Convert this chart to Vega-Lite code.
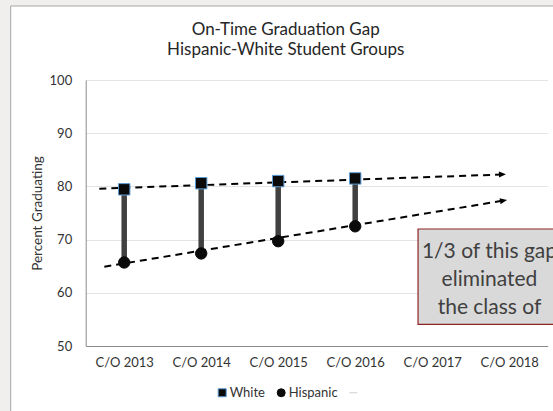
{
  "$schema": "https://vega.github.io/schema/vega-lite/v6.json",
  "width": 462,
  "height": 266,
  "autosize": "none",
  "padding": {"left": 85.7, "top": 80, "right": 5.3, "bottom": 65},
  "background": "white",
  "config": {
    "font": "Lato",
    "view": {"stroke": null}
  },
  "title": {
    "text": ["On-Time Graduation Gap", "Hispanic-White Student Groups"],
    "font": "Lato",
    "fontSize": 17,
    "fontWeight": "normal",
    "color": "#262626",
    "anchor": "middle",
    "frame": "group",
    "dx": -31,
    "lineHeight": 20,
    "offset": -59
  },
  "datasets": {
    "grad": [
      {"year": 2013, "group": "White", "pct": 79.45},
      {"year": 2014, "group": "White", "pct": 80.6},
      {"year": 2015, "group": "White", "pct": 81.0},
      {"year": 2016, "group": "White", "pct": 81.5},
      {"year": 2013, "group": "Hispanic", "pct": 65.7},
      {"year": 2014, "group": "Hispanic", "pct": 67.4},
      {"year": 2015, "group": "Hispanic", "pct": 69.7},
      {"year": 2016, "group": "Hispanic", "pct": 72.5}
    ],
    "trend": [
      {"year": 2012.677, "line": "White", "pct": 79.57},
      {"year": 2017.958, "line": "White", "pct": 82.27},
      {"year": 2012.742, "line": "Hispanic", "pct": 64.91},
      {"year": 2017.971, "line": "Hispanic", "pct": 77.44}
    ],
    "one": [{}]
  },
  "layer": [
    {
      "data": {"name": "one"},
      "mark": {"type": "rect", "fill": "#f1efee"},
      "encoding": {
        "x": {"datum": 2011.387, "type": "quantitative", "scale": {"domain": [2012.5, 2018.5], "nice": false, "zero": false}},
        "x2": {"datum": 2011.526},
        "y": {"datum": 37.78, "type": "quantitative", "scale": {"domain": [50, 100], "nice": false, "zero": false}},
        "y2": {"datum": 115.04}
      }
    },
    {
      "data": {"name": "one"},
      "mark": {"type": "rect", "fill": "#f1efee"},
      "encoding": {
        "x": {"datum": 2011.387, "type": "quantitative", "scale": {"domain": [2012.5, 2018.5], "nice": false, "zero": false}},
        "x2": {"datum": 2018.569},
        "y": {"datum": 113.91, "type": "quantitative", "scale": {"domain": [50, 100], "nice": false, "zero": false}},
        "y2": {"datum": 115.04}
      }
    },
    {
      "data": {"name": "one"},
      "mark": {"type": "rect", "filled": false, "stroke": "#a6a6a6", "strokeWidth": 1},
      "encoding": {
        "x": {"datum": 2011.526, "type": "quantitative", "scale": {"domain": [2012.5, 2018.5], "nice": false, "zero": false}},
        "x2": {"datum": 2018.595},
        "y": {"datum": 113.91, "type": "quantitative", "scale": {"domain": [50, 100], "nice": false, "zero": false}},
        "y2": {"datum": 37.41}
      }
    },
    {
      "data": {"name": "grad"},
      "transform": [{"pivot": "group", "value": "pct", "groupby": ["year"]}],
      "mark": {"type": "rule", "color": "#404040", "strokeWidth": 5.5},
      "encoding": {
        "x": {"field": "year", "type": "quantitative", "scale": {"domain": [2012.5, 2018.5], "nice": false, "zero": false}},
        "y": {"field": "White", "type": "quantitative", "scale": {"domain": [50, 100], "nice": false, "zero": false}},
        "y2": {"field": "Hispanic"}
      }
    },
    {
      "data": {"name": "trend"},
      "mark": {"type": "line", "color": "black", "strokeWidth": 2, "strokeDash": [7, 5]},
      "encoding": {
        "x": {"field": "year", "type": "quantitative", "scale": {"domain": [2012.5, 2018.5], "nice": false, "zero": false}},
        "y": {"field": "pct", "type": "quantitative", "scale": {"domain": [50, 100], "nice": false, "zero": false}},
        "detail": {"field": "line"}
      }
    },
    {
      "data": {"name": "trend"},
      "transform": [{"filter": "datum.line == 'White' && datum.year > 2017"}],
      "mark": {"type": "point", "shape": "M-2,-0.86L0,0L-2,0.86Z", "filled": true, "color": "black", "size": 49, "angle": 358, "opacity": 1},
      "encoding": {
        "x": {"field": "year", "type": "quantitative", "scale": {"domain": [2012.5, 2018.5], "nice": false, "zero": false}},
        "y": {"field": "pct", "type": "quantitative", "scale": {"domain": [50, 100], "nice": false, "zero": false}}
      }
    },
    {
      "data": {"name": "trend"},
      "transform": [{"filter": "datum.line == 'Hispanic' && datum.year > 2017"}],
      "mark": {"type": "point", "shape": "M-2,-0.86L0,0L-2,0.86Z", "filled": true, "color": "black", "size": 49, "angle": 350.6, "opacity": 1},
      "encoding": {
        "x": {"field": "year", "type": "quantitative", "scale": {"domain": [2012.5, 2018.5], "nice": false, "zero": false}},
        "y": {"field": "pct", "type": "quantitative", "scale": {"domain": [50, 100], "nice": false, "zero": false}}
      }
    },
    {
      "data": {"name": "grad"},
      "mark": {"type": "point", "filled": true, "opacity": 1, "strokeWidth": 1, "size": 130},
      "encoding": {
        "x": {
          "field": "year", "type": "quantitative",
          "scale": {"domain": [2012.5, 2018.5], "nice": false, "zero": false},
          "axis": {
            "title": null,
            "values": [2013, 2014, 2015, 2016, 2017, 2018],
            "labelExpr": "'C/O ' + datum.value",
            "grid": false,
            "ticks": false,
            "labelFlush": false,
            "labelOverlap": false,
            "labelPadding": 10,
            "labelFont": "Lato",
            "labelFontSize": 13,
            "labelColor": "#333333",
            "domainColor": "#8c8c8c",
            "domainWidth": 1
          }
        },
        "y": {
          "field": "pct", "type": "quantitative",
          "scale": {"domain": [50, 100], "nice": false, "zero": false},
          "axis": {
            "title": "Percent Graduating",
            "titleFont": "Lato",
            "titleFontSize": 13.5,
            "titleFontWeight": "normal",
            "titleColor": "#333333",
            "titlePadding": 5,
            "values": [50, 60, 70, 80, 90, 100],
            "grid": true,
            "gridColor": "#e3e3e3",
            "gridWidth": 1,
            "ticks": false,
            "labelPadding": 14,
            "labelFont": "Lato",
            "labelFontSize": 13,
            "labelColor": "#333333",
            "domainColor": "#8c8c8c",
            "domainWidth": 1
          }
        },
        "shape": {
          "field": "group", "type": "nominal",
          "scale": {"domain": ["White", "Hispanic", "Trend"], "range": ["square", "circle", "stroke"]},
          "legend": {
            "title": null,
            "orient": "none",
            "legendX": 130,
            "legendY": 306,
            "direction": "horizontal",
            "columnPadding": 9,
            "labelOffset": 1,
            "symbolSize": 64,
            "symbolStrokeWidth": 1,
            "labelFont": "Lato",
            "labelFontSize": 13,
            "labelColor": "#333333",
            "labelExpr": "datum.label == 'Trend' ? '' : datum.label"
          }
        },
        "color": {
          "field": "group", "type": "nominal",
          "scale": {"domain": ["White", "Hispanic", "Trend"], "range": ["#0a0a0a", "#0a0a0a", "#d0d0d0"]}
        },
        "stroke": {
          "field": "group", "type": "nominal",
          "scale": {"domain": ["White", "Hispanic", "Trend"], "range": ["#5b9bd5", "#0a0a0a", "#d0d0d0"]}
        }
      }
    },
    {
      "data": {"name": "one"},
      "mark": {"type": "rect", "fill": "#d9d9d9", "stroke": "#8b2525", "strokeWidth": 1.2},
      "encoding": {
        "x": {"datum": 2016.816, "type": "quantitative", "scale": {"domain": [2012.5, 2018.5], "nice": false, "zero": false}},
        "x2": {"datum": 2018.7},
        "y": {"datum": 71.99, "type": "quantitative", "scale": {"domain": [50, 100], "nice": false, "zero": false}},
        "y2": {"datum": 54.08}
      }
    },
    {
      "data": {"name": "one"},
      "mark": {"type": "text", "text": ["1/3 of this gap", "eliminated", "the class of"], "font": "Lato", "fontSize": 21, "lineHeight": 28, "align": "center", "baseline": "middle", "color": "#404040"},
      "encoding": {
        "x": {"datum": 2017.744, "type": "quantitative", "scale": {"domain": [2012.5, 2018.5], "nice": false, "zero": false}},
        "y": {"datum": 67.67, "type": "quantitative", "scale": {"domain": [50, 100], "nice": false, "zero": false}}
      }
    }
  ]
}
